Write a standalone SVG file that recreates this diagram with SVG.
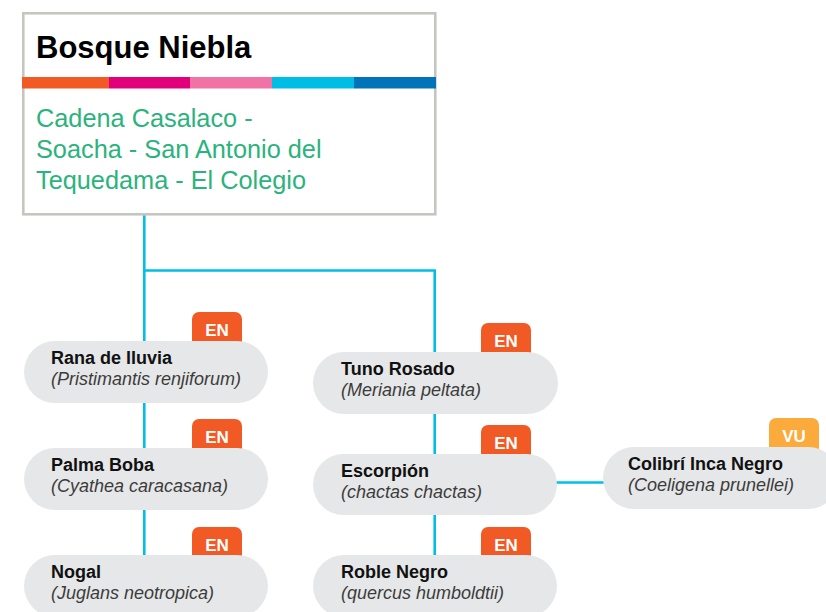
<svg xmlns="http://www.w3.org/2000/svg" width="826" height="612" viewBox="0 0 826 612">
<style>
.conn{stroke:#00bfe6;stroke-width:2.6;fill:none}
.pill{fill:#e6e7e8}
.en{fill:#f15a24}
.vu{fill:#fbab3b}
.badge-t{font-family:"Liberation Sans",Arial,sans-serif;font-weight:bold;font-size:17px;fill:#ffffff;text-anchor:middle}
.name{font-family:"Liberation Sans",Arial,sans-serif;font-weight:bold;font-size:18px;fill:#111111}
.sci{font-family:"Liberation Sans",Arial,sans-serif;font-style:italic;font-size:18px;fill:#3c3c3c}
.title{font-family:"Liberation Sans",Arial,sans-serif;font-weight:bold;font-size:31px;fill:#000000}
.sub{font-family:"Liberation Sans",Arial,sans-serif;font-size:25.3px;fill:#2ab37d}
</style>
<rect width="826" height="612" fill="#ffffff"/>
<g id="connectors">
<path class="conn" d="M144.3 214 V556"/>
<path class="conn" d="M144.3 270.5 H434.7 V556"/>
<path class="conn" d="M556 482.5 H604"/>
</g>
<g id="header">
<rect x="23.3" y="13.3" width="412" height="201" fill="#ffffff" stroke="#c6c6c1" stroke-width="2.6"/>
<text class="title" x="36" y="58">Bosque Niebla</text>
<rect x="22" y="77" width="87" height="11.5" fill="#f15a24"/>
<rect x="109" y="77" width="81" height="11.5" fill="#e2007a"/>
<rect x="190" y="77" width="82" height="11.5" fill="#f173a6"/>
<rect x="272" y="77" width="82" height="11.5" fill="#00bde5"/>
<rect x="354" y="77" width="82" height="11.5" fill="#0073bb"/>
<text class="sub" x="36" y="127">Cadena Casalaco -</text>
<text class="sub" x="36" y="158">Soacha - San Antonio del</text>
<text class="sub" x="36" y="189">Tequedama - El Colegio</text>
</g>
<g id="rana">
<rect class="en" x="192" y="312" width="50" height="40" rx="7"/>
<text class="badge-t" x="217" y="336">EN</text>
<rect class="pill" x="24" y="341" width="244" height="62" rx="31"/>
<text class="name" x="51" y="364">Rana de lluvia</text>
<text class="sci" x="51" y="385">(Pristimantis renjiforum)</text>
</g>
<g id="palma">
<rect class="en" x="192" y="419" width="50" height="40" rx="7"/>
<text class="badge-t" x="217" y="443">EN</text>
<rect class="pill" x="24" y="448" width="244" height="62" rx="31"/>
<text class="name" x="51" y="471">Palma Boba</text>
<text class="sci" x="51" y="492">(Cyathea caracasana)</text>
</g>
<g id="nogal">
<rect class="en" x="192" y="527" width="50" height="40" rx="7"/>
<text class="badge-t" x="217" y="551">EN</text>
<rect class="pill" x="24" y="555" width="244" height="62" rx="31"/>
<text class="name" x="51" y="578">Nogal</text>
<text class="sci" x="51" y="599">(Juglans neotropica)</text>
</g>
<g id="tuno">
<rect class="en" x="481" y="323" width="50" height="40" rx="7"/>
<text class="badge-t" x="506" y="347">EN</text>
<rect class="pill" x="313" y="352" width="245" height="62" rx="31"/>
<text class="name" x="341" y="375">Tuno Rosado</text>
<text class="sci" x="341" y="396">(Meriania peltata)</text>
</g>
<g id="escorpion">
<rect class="en" x="481" y="425" width="50" height="40" rx="7"/>
<text class="badge-t" x="506" y="449">EN</text>
<rect class="pill" x="313" y="454" width="244" height="61" rx="30.5"/>
<text class="name" x="341" y="477">Escorpión</text>
<text class="sci" x="341" y="498">(chactas chactas)</text>
</g>
<g id="roble">
<rect class="en" x="481" y="527" width="50" height="40" rx="7"/>
<text class="badge-t" x="506" y="551">EN</text>
<rect class="pill" x="313" y="555" width="244" height="62" rx="31"/>
<text class="name" x="341" y="578">Roble Negro</text>
<text class="sci" x="341" y="599">(quercus humboldtii)</text>
</g>
<g id="colibri">
<rect class="vu" x="769" y="418" width="50" height="40" rx="7"/>
<text class="badge-t" x="794" y="442">VU</text>
<rect class="pill" x="603" y="447" width="236" height="62" rx="31"/>
<text class="name" x="628" y="470">Colibrí Inca Negro</text>
<text class="sci" x="628" y="491">(Coeligena prunellei)</text>
</g>
</svg>
